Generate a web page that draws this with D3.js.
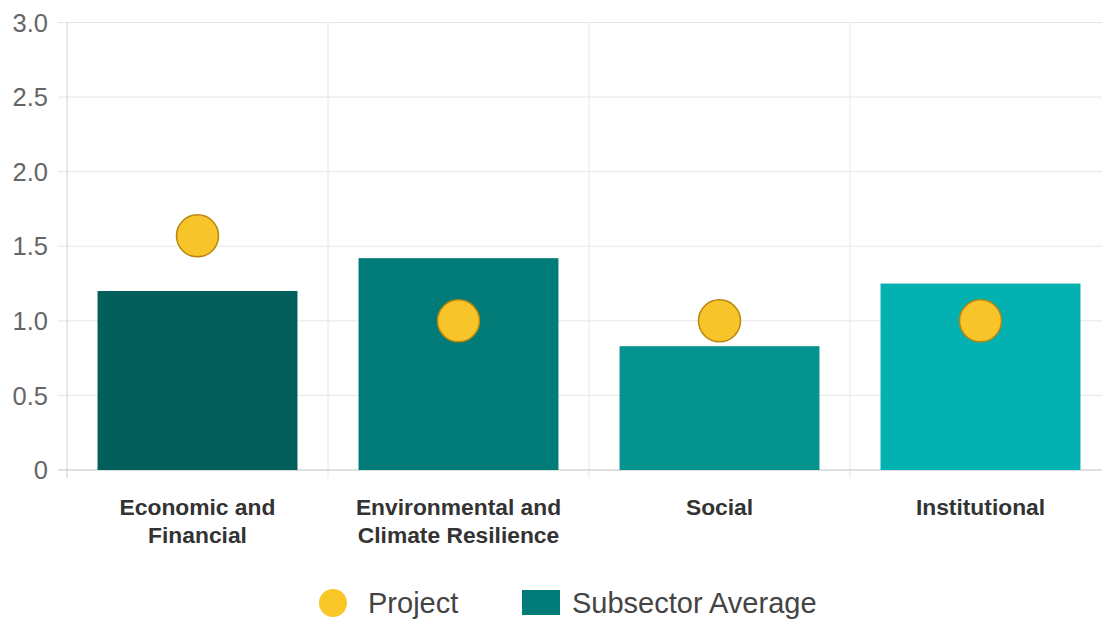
<!DOCTYPE html>
<html><head><meta charset="utf-8">
<script src="https://cdn.jsdelivr.net/npm/d3@7"></script>
<style>body{margin:0;background:#fff;}svg{display:block;} text{font-family:Arial,"Liberation Sans",Helvetica,sans-serif;}</style>
</head><body><svg id="c" width="1102" height="620"></svg>
<script>
const categories = [["Economic and","Financial"],["Environmental and","Climate Resilience"],["Social"],["Institutional"]];
const subsectorAverage = [1.20, 1.42, 0.83, 1.25];
const project = [1.57, 1.0, 1.0, 1.0];
const barColors = ["#035f5b","#007b77","#04938f","#03b2b0"];
const yTicks = [0, 0.5, 1.0, 1.5, 2.0, 2.5, 3.0];
const yTickLabels = ["0","0.5","1.0","1.5","2.0","2.5","3.0"];

(function(){
const svg = d3.select("#c");
const pL = 67, pR = 1111, pT = 22.5, pB = 470;
const keys = categories.map((c,i)=>i);
const x = d3.scaleBand().domain(keys).range([pL,pR]).paddingInner(0).paddingOuter(0);
const y = d3.scaleLinear().domain([0,3]).range([pB,pT]);
const bw = x.bandwidth()*0.766;

svg.append("g").selectAll("line").data(yTicks.slice(1)).join("line")
  .attr("x1",58).attr("x2",1102).attr("y1",d=>y(d)).attr("y2",d=>y(d))
  .attr("stroke","#e6e6e6").attr("stroke-width",1);
svg.append("g").selectAll("line").data(keys.slice(1)).join("line")
  .attr("x1",d=>x(d)).attr("x2",d=>x(d)).attr("y1",pT).attr("y2",pB+8)
  .attr("stroke","#e6e6e6").attr("stroke-width",1);
svg.append("line").attr("x1",pL).attr("x2",pL).attr("y1",pT).attr("y2",pB+8).attr("stroke","#d0d0d0");
svg.append("line").attr("x1",58).attr("x2",1102).attr("y1",pB).attr("y2",pB).attr("stroke","#c0c0c0");

svg.append("g").selectAll("text").data(yTicks).join("text")
  .attr("x",48).attr("y",d=>y(d)).attr("dy","0.36em").attr("text-anchor","end")
  .attr("font-size",25.5).attr("fill","#666").text((d,i)=>yTickLabels[i]);

svg.append("g").selectAll("rect").data(subsectorAverage).join("rect")
  .attr("x",(d,i)=>x(i)+(x.bandwidth()-bw)/2).attr("width",bw)
  .attr("y",d=>y(d)).attr("height",d=>pB-y(d))
  .attr("fill",(d,i)=>barColors[i]);

svg.append("g").selectAll("circle").data(project).join("circle")
  .attr("cx",(d,i)=>x(i)+x.bandwidth()/2).attr("cy",d=>y(d)).attr("r",21)
  .attr("fill","#f7c42a").attr("stroke","#b8860b").attr("stroke-width",1.5);

const xl = svg.append("g").selectAll("text").data(categories).join("text")
  .attr("text-anchor","middle").attr("font-size",22.8).attr("font-weight","bold").attr("fill","#333")
  .attr("x",(d,i)=>x(i)+x.bandwidth()/2).attr("y",515);
xl.each(function(d){
  const t=d3.select(this);
  d.forEach((line,j)=>t.append("tspan").attr("x",t.attr("x")).attr("dy",j?28:0).text(line));
});

const lg = svg.append("g");
lg.append("circle").attr("cx",333).attr("cy",603).attr("r",14).attr("fill","#f9c828");
lg.append("text").attr("x",368).attr("y",613).attr("font-size",29).attr("fill","#444").text("Project");
lg.append("rect").attr("x",522).attr("y",590).attr("width",38).attr("height",25).attr("fill","#007b77");
lg.append("text").attr("x",572).attr("y",613).attr("font-size",29).attr("fill","#444").text("Subsector Average");
})();
</script></body></html>
